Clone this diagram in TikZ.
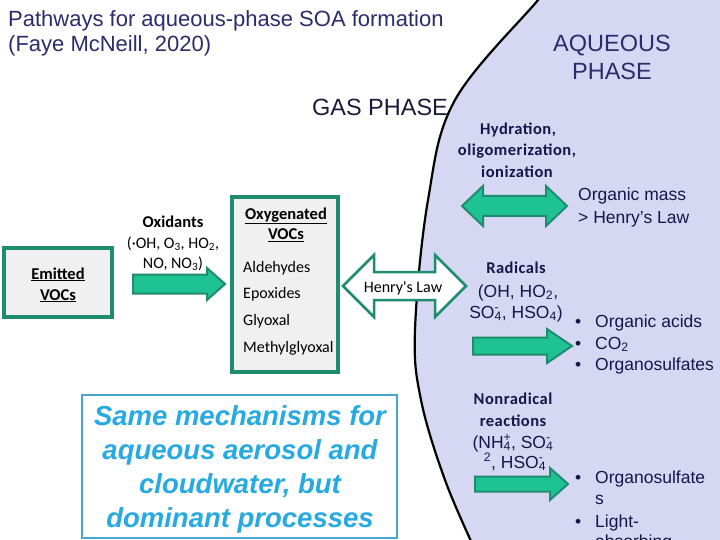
\documentclass[tikz,border=0pt]{standalone}
\usepackage{fontspec}
\setmainfont{Liberation Sans}
\newfontfamily\calib{Carlito}
\newfontfamily\calibw{Carlito}[LetterSpace=3]
\usetikzlibrary{calc}
\definecolor{titlec}{HTML}{2C2C6C}
\definecolor{navy}{HTML}{16164A}
\definecolor{gasc}{HTML}{1A1A3A}
\definecolor{greenb}{HTML}{1E8C6E}
\definecolor{mint}{HTML}{1FC393}
\definecolor{boxfill}{HTML}{F0F0F0}
\definecolor{lav}{HTML}{D6D7F2}
\definecolor{cyanT}{HTML}{27A9E1}
\definecolor{cyanB}{HTML}{48A7CF}
\newcommand\rblock[7][]{\path[#1] (#2,{#4-#5}) -- ({#3-#7},{#4-#5}) -- ({#3-#7},{#4-#6}) -- (#3,#4) -- ({#3-#7},{#4+#6}) -- ({#3-#7},{#4+#5}) -- (#2,{#4+#5}) -- cycle;}
\newcommand\dblock[7][]{\path[#1] (#2,#4) -- ({#2+#7},{#4-#6}) -- ({#2+#7},{#4-#5}) -- ({#3-#7},{#4-#5}) -- ({#3-#7},{#4-#6}) -- (#3,#4) -- ({#3-#7},{#4+#6}) -- ({#3-#7},{#4+#5}) -- ({#2+#7},{#4+#5}) -- ({#2+#7},{#4+#6}) -- cycle;}
\tikzset{
  vocbox/.style={draw=greenb, line width=3.5pt, fill=boxfill, inner sep=0pt},
  mintarrow/.style={draw=greenb, line width=2pt, fill=mint, line join=miter},
  whitearrow/.style={draw=greenb, line width=2.5pt, fill=white, line join=miter},
  lbl/.style={inner sep=0pt, anchor=base},
  lbll/.style={inner sep=0pt, anchor=base west},
  calg/.style={font=\calib\bfseries\fontsize{16.5}{19}\selectfont, text=black},
  calb/.style={font=\calibw\bfseries\fontsize{16.5}{19}\selectfont, text=navy},
  calr/.style={font=\calib\fontsize{16}{19}\selectfont, text=black},
  aq/.style={font=\fontsize{17.5}{20}\selectfont, text=navy},
  bluet/.style={font=\bfseries\itshape\fontsize{27.5}{30}\selectfont, text=cyanT}
}
\begin{document}
\begin{tikzpicture}[x=1pt,y=-1pt]
\path[use as bounding box] (0,0) rectangle (720,540);
\clip (0,0) rectangle (720,540);
\fill[white] (0,0) rectangle (720,540);
% aqueous region
\fill[lav] plot[smooth, tension=0.6] coordinates {(548,-15) (538,0) (455,100) (428,200) (415,330) (421,400) (445,480) (476,552)} -- (730,552) -- (730,-15) -- cycle;
\draw[black, line width=2.2pt] plot[smooth, tension=0.6] coordinates {(548,-15) (538,0) (455,100) (428,200) (415,330) (421,400) (445,480) (476,552)};

% titles
\node[lbll, font=\fontsize{22}{25}\selectfont, text=titlec] (t1) at (8,27) {Pathways for aqueous-phase SOA formation};
\node[lbll, font=\fontsize{22}{25}\selectfont, text=titlec] (t2) at (8,52) {(Faye McNeill, 2020)};
\node[lbl, font=\fontsize{23.5}{26}\selectfont, text=titlec] (aq1) at (612,52) {AQUEOUS};
\node[lbl, font=\fontsize{23.5}{26}\selectfont, text=titlec] (aq2) at (612,80) {PHASE};
\node[lbl, font=\fontsize{23.5}{26}\selectfont, text=gasc] (gas) at (380,116) {GAS PHASE};

% Emitted VOCs
\node[vocbox, minimum width=108pt, minimum height=69pt] (emit) at (58,282.5) {};
\node[lbl, calg] (e1) at (58,279) {\underline{Emitted}};
\node[lbl, calg] (e2) at (58,300) {\underline{VOCs}};

% oxidants
\node[lbl, calg] (o1) at (173,227) {Oxidants};
\node[lbl, calr] (o2) at (173,248) {(·OH, O\textsubscript{3}, HO\textsubscript{2},};
\node[lbl, calr] (o3) at (173,268) {NO, NO\textsubscript{3})};
\rblock[mintarrow]{133}{225}{284}{9.5}{16}{18}

% Oxygenated VOCs
\node[vocbox, minimum width=106pt, minimum height=175pt] (oxy) at (285,284.5) {};
\node[lbl, calg] (x1) at (286,219) {\underline{Oxygenated}};
\node[lbl, calg] (x2) at (286,240) {\underline{VOCs}};
\node[lbll, calr] (x3) at (243,272) {Aldehydes};
\node[lbll, calr] (x4) at (243,298) {Epoxides};
\node[lbll, calr] (x5) at (243,325) {Glyoxal};
\node[lbll, calr] (x6) at (243,352) {Methylglyoxal};

% Henry's law
\dblock[whitearrow]{343}{466}{286}{14}{31}{31}
\node[lbl, calr] (henry) at (403,292) {Henry's Law};

% aqueous top
\node[lbl, calb] (h1) at (518,135) {Hydration,};
\node[lbl, calb] (h2) at (517,156) {oligomerization,};
\node[lbl, calb] (h3) at (517,178) {ionization};
\dblock[mintarrow]{462}{567}{206}{10}{20}{21}
\node[lbll, aq] (om1) at (578,201) {Organic mass};
\node[lbll, aq] (om2) at (578,223) {> Henry's Law};

% radicals
\node[lbl, calb] (r1) at (516,273) {Radicals};
\node[lbl, aq] (r2) at (518,297) {(OH, HO\textsubscript{2},};
\node[lbl, aq] (r3) at (516,318) {SO\rlap{\textsuperscript{-}}\textsubscript{4}, HSO\textsubscript{4})};
\rblock[mintarrow]{473}{572}{346}{8.5}{17}{25}
\node[lbll, aq] (b1) at (575,327) {•};
\node[lbll, aq] (b1t) at (595,327) {Organic acids};
\node[lbll, aq] (b2) at (575,349) {•};
\node[lbll, aq] (b2t) at (595,349) {CO\textsubscript{2}};
\node[lbll, aq] (b3) at (575,370) {•};
\node[lbll, aq] (b3t) at (595,370) {Organosulfates};

% nonradical
\node[lbl, calb] (n1) at (513,404) {Nonradical};
\node[lbl, calb] (n2) at (513,426) {reactions};
\node[lbl, aq] (n3) at (513,448) {(NH\rlap{\textsuperscript{+}}\textsubscript{4}, SO\rlap{\textsuperscript{-}}\textsubscript{4}};
\node[lbl, aq] (n4) at (515,468) {\textsuperscript{2}, HSO\rlap{\textsuperscript{-}}\textsubscript{4}};
\rblock[mintarrow]{475}{568}{484}{7.5}{16}{18}
\node[lbll, aq] (c1) at (575,483) {•};
\node[lbll, aq] (c1t) at (595,483) {Organosulfate};
\node[lbll, aq] (c1s) at (595,504) {s};
\node[lbll, aq] (c2) at (575,527) {•};
\node[lbll, aq] (c2t) at (595,527) {Light-};
\node[lbll, aq] (c3t) at (595,547) {absorbing};

% blue box
\node[draw=cyanB, line width=1.3pt, minimum width=315pt, minimum height=143pt, inner sep=0pt] (blue) at (239.5,466.5) {};
\node[lbl, bluet] (s1) at (240,425) {Same mechanisms for};
\node[lbl, bluet] (s2) at (240,459) {aqueous aerosol and};
\node[lbl, bluet] (s3) at (240,493) {cloudwater, but};
\node[lbl, bluet] (s4) at (240,527) {dominant processes};
\end{tikzpicture}
\end{document}
